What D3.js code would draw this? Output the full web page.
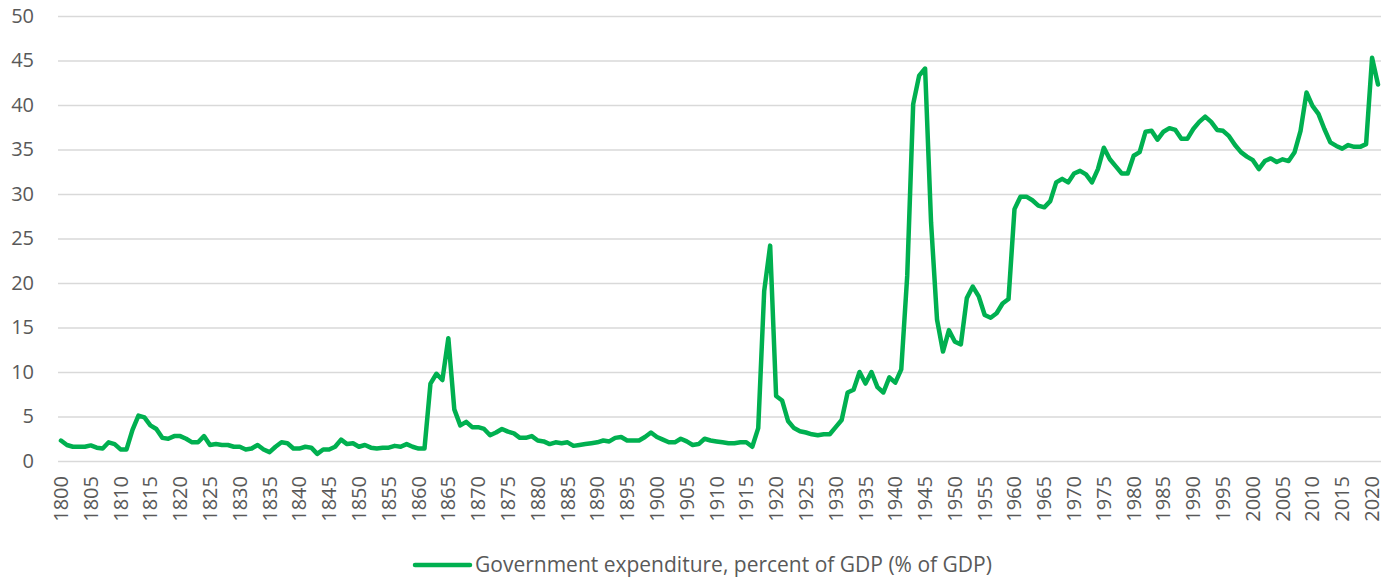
<!DOCTYPE html>
<html>
<head>
<meta charset="utf-8">
<script src="https://cdn.jsdelivr.net/npm/d3@7"></script>
<style>
  body { margin: 0; background: #fff; }
  svg text { font-family: "Open Sans", "Liberation Sans", sans-serif; fill: #595959; }
</style>
</head>
<body>
<div id="chart"></div>
<script>

// Chart data
var firstYear = 1800;
var seriesName = "Government expenditure, percent of GDP (% of GDP)";
var yTicks = [0, 5, 10, 15, 20, 25, 30, 35, 40, 45, 50];
var expenditure = [
	2.3, 1.8, 1.6, 1.6, 1.6, 1.75, 1.5, 1.4, 2.1, 1.9,       // 1800s
	1.3, 1.3, 3.5, 5.1, 4.9, 4.0, 3.6, 2.6, 2.5, 2.8,        // 1810s
	2.8, 2.5, 2.1, 2.1, 2.8, 1.8, 1.9, 1.8, 1.8, 1.6,        // 1820s
	1.6, 1.3, 1.4, 1.8, 1.3, 1.0, 1.6, 2.1, 2.0, 1.4,        // 1830s
	1.4, 1.6, 1.5, 0.8, 1.3, 1.3, 1.6, 2.4, 1.9, 2.0,        // 1840s
	1.6, 1.8, 1.5, 1.4, 1.5, 1.5, 1.7, 1.6, 1.9, 1.6,        // 1850s
	1.4, 1.4, 8.7, 9.8, 9.1, 13.8, 5.8, 4.0, 4.4, 3.8,       // 1860s
	3.8, 3.6, 2.9, 3.2, 3.6, 3.3, 3.1, 2.6, 2.6, 2.8,        // 1870s
	2.3, 2.2, 1.9, 2.1, 2.0, 2.1, 1.7, 1.8, 1.9, 2.0,        // 1880s
	2.1, 2.3, 2.2, 2.6, 2.7, 2.3, 2.3, 2.3, 2.7, 3.2,        // 1890s
	2.7, 2.4, 2.1, 2.1, 2.5, 2.2, 1.8, 1.9, 2.5, 2.3,        // 1900s
	2.2, 2.1, 2.0, 2.0, 2.1, 2.1, 1.6, 3.7, 19.1, 24.2,      // 1910s
	7.3, 6.8, 4.5, 3.7, 3.35, 3.2, 3.0, 2.9, 3.0, 3.0,       // 1920s
	3.8, 4.6, 7.7, 8.0, 10.0, 8.7, 10.0, 8.3, 7.7, 9.4,      // 1930s
	8.8, 10.3, 20.8, 40.1, 43.3, 44.1, 26.8, 15.9, 12.3, 14.7, // 1940s
	13.4, 13.1, 18.3, 19.6, 18.5, 16.4, 16.1, 16.6, 17.7, 18.2, // 1950s
	28.3, 29.7, 29.7, 29.3, 28.7, 28.5, 29.2, 31.3, 31.7, 31.3, // 1960s
	32.3, 32.6, 32.2, 31.3, 32.8, 35.2, 33.9, 33.1, 32.3, 32.3, // 1970s
	34.3, 34.7, 37.0, 37.1, 36.1, 37.0, 37.4, 37.2, 36.2, 36.2, // 1980s
	37.3, 38.1, 38.7, 38.1, 37.2, 37.1, 36.5, 35.5, 34.7, 34.2, // 1990s
	33.8, 32.8, 33.7, 34.0, 33.6, 33.9, 33.7, 34.7, 37.1, 41.4, // 2000s
	39.9, 39.0, 37.3, 35.8, 35.4, 35.1, 35.5, 35.3, 35.3, 35.6, // 2010s
	45.3, 42.3                                                  // 2020s
];
var years = expenditure.map(function(d, i) { return firstYear + i; });

// Set up chart parameters
var width = 1396,
	height = 580,
	margin = {top: 16, right: 15, bottom: 119, left: 58},
	plotW = width - margin.left - margin.right,
	plotH = height - margin.top - margin.bottom;

var xScale = d3.scaleBand().domain(years).range([0, plotW]);
var yScale = d3.scaleLinear().domain([0, 50]).range([plotH, 0]);

var svg = d3.select("#chart").append("svg")
	.attr("width", width)
	.attr("height", height);

var g = svg.append("g")
	.attr("transform", "translate(" + margin.left + "," + margin.top + ")");

// Horizontal gridlines + y labels
var yAxis = d3.axisLeft(yScale)
	.tickValues(yTicks)
	.tickSize(-plotW)
	.tickPadding(24);

g.append("g")
	.attr("class", "axis axis--y")
	.call(yAxis)
	.call(function(a) {
		a.select(".domain").remove();
		a.selectAll(".tick line").attr("stroke", "#d9d9d9").attr("stroke-width", 1.3);
		a.selectAll(".tick text").style("font-size", "20px").attr("fill", "#595959");
	});

// x labels every 5 years, rotated
var xAxis = d3.axisBottom(xScale)
	.tickValues(years.filter(function(y) { return y % 5 === 0; }))
	.tickSize(0)
	.tickPadding(0);

g.append("g")
	.attr("class", "axis axis--x")
	.attr("transform", "translate(0," + plotH + ")")
	.call(xAxis)
	.call(function(a) {
		a.select(".domain").remove();
		a.selectAll(".tick text")
			.style("font-size", "20px")
			.attr("fill", "#595959")
			.attr("transform", "rotate(-90)")
			.attr("x", -15)
			.attr("y", 0)
			.attr("dy", "0.35em")
			.style("text-anchor", "end");
	});

// The line
var line = d3.line()
	.x(function(d, i) { return xScale(years[i]) + xScale.bandwidth() / 2; })
	.y(function(d) { return yScale(d); });

g.append("path")
	.datum(expenditure)
	.attr("fill", "none")
	.attr("stroke", "#00b050")
	.attr("stroke-width", 4.5)
	.attr("stroke-linejoin", "round")
	.attr("stroke-linecap", "round")
	.attr("d", line);

// Legend
var legend = svg.append("g").attr("transform", "translate(413,565)");
legend.append("line")
	.attr("x1", 2).attr("x2", 57)
	.attr("y1", 0).attr("y2", 0)
	.attr("stroke", "#00b050")
	.attr("stroke-width", 4.5)
	.attr("stroke-linecap", "round");
legend.append("text")
	.attr("x", 62)
	.attr("y", 0)
	.attr("dy", "0.35em")
	.style("font-size", "21px")
	.text(seriesName);

</script>
</body>
</html>
